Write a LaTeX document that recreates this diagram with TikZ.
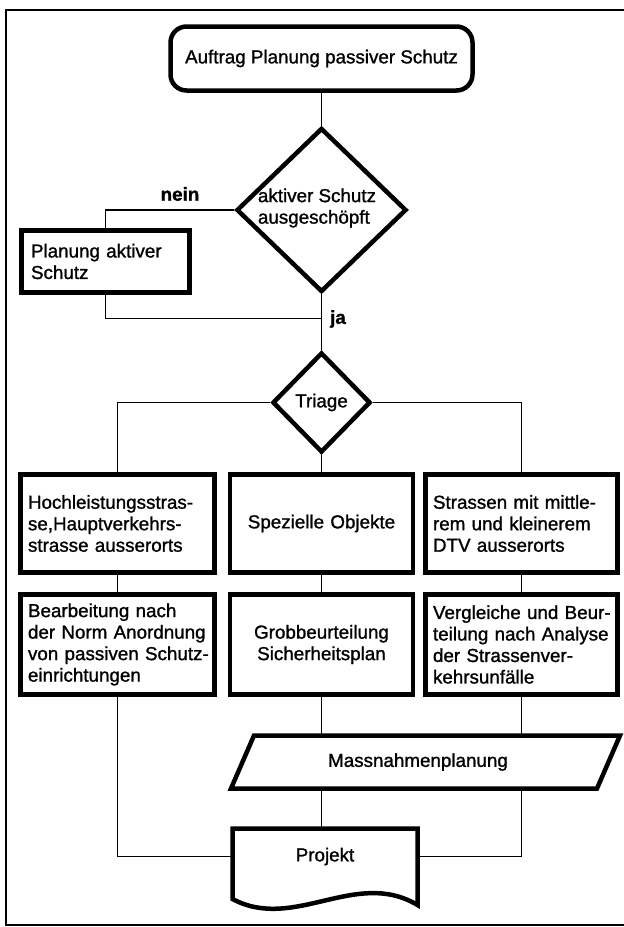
\documentclass[tikz,border=0pt]{standalone}
\usepackage{fontspec}
\setmainfont{Liberation Sans}[RawFeature={embolden=1.2}]
\usetikzlibrary{shapes.geometric}
\newcommand{\oneline}[1]{\mbox{#1}}
\begin{document}
\begin{tikzpicture}[x=1pt,y=-1pt,
  every node/.style={font=\fontsize{18.8}{21.5}\selectfont},
  thickline/.style={draw, line width=4.5pt, line join=miter},
  startbox/.style={thickline, rounded corners=16pt, inner sep=0pt, minimum width=302pt, minimum height=64pt},
  dia/.style={thickline, diamond, inner sep=0pt},
  procbox/.style={thickline, rectangle, align=left, inner xsep=7.5pt, inner ysep=0pt},
  conn/.style={line width=1.6pt},
  lbl/.style={font=\fontsize{18.8}{21.5}\selectfont\bfseries},
  frame/.style={line width=1.8pt}
]
\useasboundingbox (0,0) rectangle (624,927);
\draw[frame] (624,10) -- (6,10) -- (6,925) -- (624,925);

% nodes
\node[startbox] (start) at (321.5,58.5) {Auftrag Planung passiver Schutz};
\node[dia, minimum width=170pt, minimum height=164pt] (d1) at (321.5,210) {};
\node[align=left, inner sep=0pt] (d1t) at (317,208) {aktiver Schutz\\ausgeschöpft};
\node[procbox, minimum width=168pt, minimum height=62pt, text width=149pt, inner xsep=9.5pt] (pak) at (105.5,261.5) {\oneline{Planung aktiver}\\Schutz};
\node[lbl] (nein) at (180,194) {nein};
\node[lbl] (ja) at (338,319) {ja};
\coordinate (jaj) at (321.5,318.5);
\node[dia, minimum width=98pt, minimum height=100pt] (tri) at (321.5,402.5) {Triage};

\node[procbox, minimum width=194pt, minimum height=98pt, text width=179pt] (h1) at (117.5,523.5) {\oneline{Hochleistungsstras-}\\\oneline{se,Hauptverkehrs-}\\\oneline{strasse ausserorts}};
\node[procbox, align=center, minimum width=183pt, minimum height=98pt, text width=168pt] (o1) at (321.5,523.5) {Spezielle Objekte};
\node[procbox, minimum width=192pt, minimum height=98pt, text width=177pt] (s1) at (521.5,523.5) {\oneline{Strassen mit mittle-}\\\oneline{rem und kleinerem}\\\oneline{DTV ausserorts}};

\node[procbox, minimum width=194pt, minimum height=100pt, text width=179pt] (h2) at (117.5,644.5) {\oneline{Bearbeitung nach}\\\oneline{der Norm Anordnung}\\\oneline{von passiven Schutz-}\\\oneline{einrichtungen}};
\node[procbox, align=center, minimum width=183pt, minimum height=100pt, text width=168pt] (o2) at (321.5,644.5) {Grobbeurteilung\\Sicherheitsplan};
\node[procbox, minimum width=192pt, minimum height=100pt, text width=177pt] (s2) at (521.5,644.5) {\oneline{Vergleiche und Beur-}\\\oneline{teilung nach Analyse}\\\oneline{der Strassenver-}\\\oneline{kehrsunfälle}};

% Massnahmenplanung (parallelogram)
\draw[thickline] (254,735.5) -- (620,735.5) -- (597,788.5) -- (231,788.5) -- cycle;
\node[minimum height=53pt, inner sep=0pt] (mass) at (418,762) {Massnahmenplanung};

% Projekt (document)
\node[minimum width=185pt, minimum height=56pt, inner sep=0pt] (proj) at (325,856.5) {Projekt};
\draw[thickline] (232.5,899) -- (232.5,828.5) -- (417.5,828.5) -- (417.5,905)
  .. controls (356,868) and (294,932) .. (232.5,899) -- cycle;

% connectors
\draw[conn] (start.south) -- (d1.north);
\draw[conn] (d1.west) -| (pak.north);
\draw[conn] (pak.south) |- (jaj);
\draw[conn] (d1.south) -- (tri.north);
\draw[conn] (tri.west) -| (h1.north);
\draw[conn] (tri.east) -| (s1.north);
\draw[conn] (tri.south) -- (o1.north);
\draw[conn] (h1.south) -- (h2.north);
\draw[conn] (o1.south) -- (o2.north);
\draw[conn] (s1.south) -- (s2.north);
\draw[conn] (h2.south) |- (proj.west);
\draw[conn] (o2.south) -- (o2.south |- mass.north);
\draw[conn] (s2.south) -- (s2.south |- mass.north);
\draw[conn] (o2.south |- mass.south) -- (o2.south |- proj.north);
\draw[conn] (s2.south |- mass.south) |- (proj.east);
\end{tikzpicture}
\end{document}
